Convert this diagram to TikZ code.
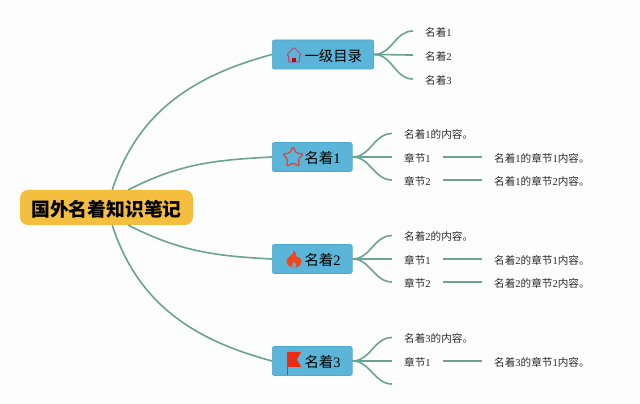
\documentclass[tikz,border=0pt]{standalone}
\usepackage{fontspec}
\setmainfont{Noto Sans CJK SC}
\newfontfamily\numfont{Liberation Serif}
\newcommand{\dg}[1]{{\numfont #1}}
\usetikzlibrary{shapes.geometric}
\definecolor{pagebg}{HTML}{FDFDFE}
\definecolor{rootfill}{HTML}{F4BE3F}
\definecolor{boxfill}{HTML}{5BB5D8}
\definecolor{boxline}{HTML}{4FA9CB}
\definecolor{linkcol}{HTML}{6AA392}
\definecolor{leafcol}{HTML}{2B2B2B}
\definecolor{housecol}{HTML}{C9407F}
\definecolor{starcol}{HTML}{D9473F}
\definecolor{flamecol}{HTML}{F0481C}
\definecolor{flagcol}{HTML}{EE2A10}
\begin{document}
\begin{tikzpicture}[x=1pt,y=1pt]
	\tikzstyle{root} = [rectangle,rounded corners=8pt,fill=rootfill,minimum width=173pt,minimum height=35pt,inner sep=0pt,text height=18pt,text depth=0pt,font=\fontsize{18.8}{20}\selectfont\bfseries]
	\tikzstyle{block} = [rectangle,rounded corners=2pt,fill=boxfill,draw=boxline,line width=0.6pt,anchor=west,minimum height=29pt,inner xsep=11.7pt,inner ysep=0pt,text height=14pt,text depth=0pt,font=\fontsize{14.4}{16}\selectfont]
	\tikzstyle{leaf} = [anchor=west,inner xsep=12pt,inner ysep=1pt,text=leafcol,text height=10.5pt,text depth=0pt,font=\fontsize{10.6}{12}\selectfont]
	\tikzstyle{link} = [linkcol,line width=1.6pt]
	\useasboundingbox[fill=pagebg] (0,0) rectangle (640,404);
	\node[root](notes)at(106.5,196.5){国外名着知识笔记};
	\node[block](index)at(272,349.5){\hspace*{20.5pt}一级目录};
	\node[block](book1)at(272,247){\hspace*{20.5pt}名着\dg{1}};
	\node[block](book2)at(272,145){\hspace*{20.5pt}名着\dg{2}};
	\node[block](book3)at(272,43){\hspace*{20.5pt}名着\dg{3}};
	\node[leaf](index-a)at(413,373){名着\dg{1}};
	\node[leaf](index-b)at(413,349){名着\dg{2}};
	\node[leaf](index-c)at(413,325){名着\dg{3}};
	\node[leaf](book1-a)at(392,270.5){名着\dg{1}的内容。};
	\node[leaf](book1-b)at(392,247){章节\dg{1}};
	\node[leaf](book1-c)at(392,224){章节\dg{2}};
	\node[leaf](book1-bd)at(482,247){名着\dg{1}的章节\dg{1}内容。};
	\node[leaf](book1-cd)at(482,224){名着\dg{1}的章节\dg{2}内容。};
	\node[leaf](book2-a)at(392,168.5){名着\dg{2}的内容。};
	\node[leaf](book2-b)at(392,145){章节\dg{1}};
	\node[leaf](book2-c)at(392,122){章节\dg{2}};
	\node[leaf](book2-bd)at(482,145){名着\dg{2}的章节\dg{1}内容。};
	\node[leaf](book2-cd)at(482,122){名着\dg{2}的章节\dg{2}内容。};
	\node[leaf](book3-a)at(392,66.5){名着\dg{3}的内容。};
	\node[leaf](book3-b)at(392,43){章节\dg{1}};
	\node[leaf](book3-bd)at(482,43){名着\dg{3}的章节\dg{1}内容。};
	\coordinate(book3-c)at(392,20);
	\path[link]
	(notes.72) edge[out=72,in=195] (index.west)
	(notes.39) edge[out=27,in=183] (book1.west)
	(notes.-39) edge[out=-27,in=177] (book2.west)
	(notes.-72) edge[out=-72,in=165] (book3.west);
	\path[link,out=0,in=180]
	(index.east) edge (index-a.west)
	(index.east) edge (index-b.west)
	(index.east) edge (index-c.west)
	(book1.east) edge (book1-a.west)
	(book1.east) edge (book1-b.west)
	(book1.east) edge (book1-c.west)
	(book2.east) edge (book2-a.west)
	(book2.east) edge (book2-b.west)
	(book2.east) edge (book2-c.west)
	(book3.east) edge (book3-a.west)
	(book3.east) edge (book3-b.west)
	(book3.east) edge (book3-c);
	\path[link]
	(book1-b) edge (book1-bd)
	(book1-c) edge (book1-cd)
	(book2-b) edge (book2-bd)
	(book2-c) edge (book2-cd)
	(book3-b) edge (book3-bd);
	\draw[draw=housecol,line width=1pt,line join=round,rounded corners=1pt] (286.5,349) -- (294,356.5) -- (301.5,349) -- (299.5,349) -- (299.5,342) -- (288.5,342) -- (288.5,349) -- cycle;
	\fill[red!80!black] (292,342) rectangle (296,346);
	\node[star,star points=5,star point ratio=2,draw=starcol,line width=1.3pt,rounded corners=1.5pt,minimum size=22pt,inner sep=0pt](starmark)at(293,246.5){};
	\fill[flamecol] (294,136.5) .. controls (289,136.5) and (286.5,139.5) .. (286.5,143) .. controls (286.5,147) and (293,148) .. (294,153.5) .. controls (296,151.5) and (296.5,149.5) .. (296.5,147.5) .. controls (298.5,147.5) and (301.5,146) .. (301.5,143) .. controls (301.5,139.5) and (299,136.5) .. (294,136.5) -- cycle;
	\fill[boxfill] (294,136.5) .. controls (292.5,136.5) and (292,138) .. (292.3,139) .. controls (292.6,140) and (293.5,141) .. (294,142.5) .. controls (295,141) and (296,140) .. (296,139) .. controls (296,137.5) and (295.2,136.5) .. (294,136.5) -- cycle;
	\fill[flagcol] (287,52) -- (301,52) -- (297,44.5) -- (301,37) -- (287,37) -- cycle;
	\draw[flagcol,line width=0.5pt] (287,52) -- (287,29);
\end{tikzpicture}
\end{document}
